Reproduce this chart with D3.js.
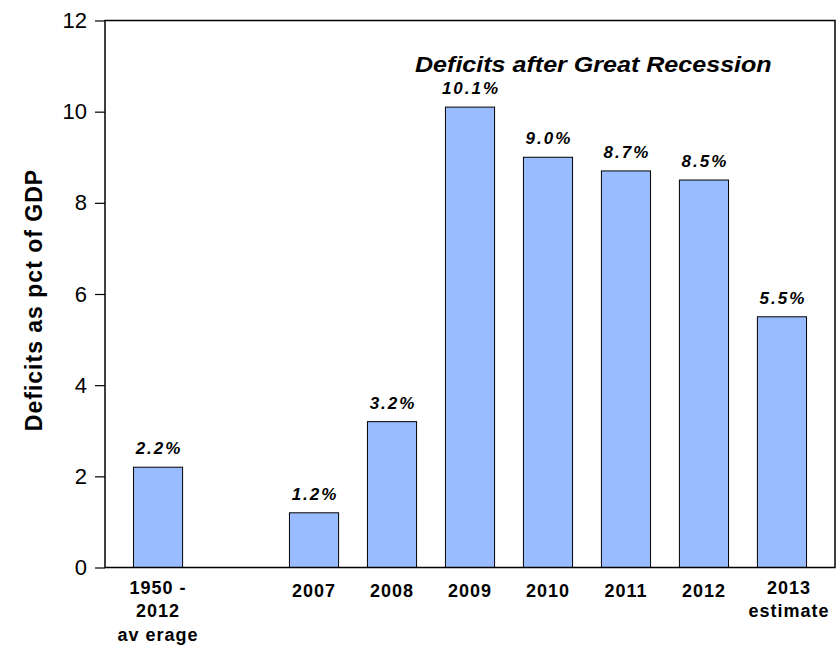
<!DOCTYPE html>
<html>
<head>
<meta charset="utf-8">
<script src="https://cdn.jsdelivr.net/npm/d3@7"></script>
<style>
  html, body { margin: 0; padding: 0; background: #fff; }
  svg { display: block; font-family: Arial, "Liberation Sans", sans-serif; }
</style>
</head>
<body>
<svg id="chart" width="836" height="650"></svg>
<script>
// ---- data ----
const categories = ["avg", "gap", "2007", "2008", "2009", "2010", "2011", "2012", "2013"];
const categoryLabels = [["1950 -", "2012", "av erage"], [], ["2007"], ["2008"], ["2009"], ["2010"], ["2011"], ["2012"], ["2013", "estimate"]];
const barCategories = ["avg", "2007", "2008", "2009", "2010", "2011", "2012", "2013"];
const deficits = [2.2, 1.2, 3.2, 10.1, 9.0, 8.7, 8.5, 5.5];
const valueLabels = ["2.2%", "1.2%", "3.2%", "10.1%", "9.0%", "8.7%", "8.5%", "5.5%"];
const yTicks = [0, 2, 4, 6, 8, 10, 12];
const titleText = "Deficits after Great Recession";
const yAxisTitle = "Deficits as pct of GDP";

// ---- layout ----
const svg = d3.select("#chart");
const mLeft = 105, mRight = 835, mTop = 20.5, mBottom = 567.5;

const x = d3.scaleBand().domain(categories).range([mLeft, mRight])
  .paddingInner(0.37).paddingOuter(0.365);
const y = d3.scaleLinear().domain([0, 12]).range([mBottom, mTop]);

const barData = barCategories.map((c, i) => ({c, v: deficits[i], label: valueLabels[i]}));

// bars
svg.append("g").selectAll("rect")
  .data(barData)
  .join("rect")
  .attr("x", d => x(d.c))
  .attr("y", d => y(d.v))
  .attr("width", x.bandwidth())
  .attr("height", d => y(0) - y(d.v))
  .attr("fill", "#99bbff")
  .attr("stroke", "#000")
  .attr("stroke-width", 1);

// value labels
svg.append("g").selectAll("text")
  .data(barData)
  .join("text")
  .attr("x", d => x(d.c) + x.bandwidth() / 2 + 1)
  .attr("y", d => y(d.v) - 13)
  .attr("text-anchor", "middle")
  .attr("font-size", "17px")
  .attr("font-weight", "bold")
  .attr("font-style", "italic")
  .attr("letter-spacing", "2px")
  .text(d => d.label);

// y axis
const yAxis = d3.axisLeft(y).tickValues(yTicks).tickSize(10).tickPadding(8).tickFormat(d3.format("d"));
const gy = svg.append("g").attr("transform", `translate(${mLeft},0)`).call(yAxis);
gy.select(".domain").remove();
gy.selectAll(".tick line").attr("stroke", "#000").attr("stroke-width", 1.2);
gy.selectAll(".tick text").attr("font-size", "22px").attr("fill", "#000")
  .attr("font-family", "Arial, 'Liberation Sans', sans-serif");

// frame
svg.append("rect")
  .attr("x", mLeft).attr("y", mTop)
  .attr("width", mRight - mLeft).attr("height", mBottom - mTop)
  .attr("fill", "none").attr("stroke", "#000").attr("stroke-width", 1.5);

// x labels
const xl = svg.append("g");
categories.forEach((c, i) => {
  const lines = categoryLabels[i];
  if (!lines.length) return;
  const shift = c === "2013" ? 7 : 0;
  const cx = x(c) + x.bandwidth() / 2 + shift;
  const t = xl.append("text")
    .attr("x", cx)
    .attr("y", lines.length > 1 ? 594 : 596.5)
    .attr("text-anchor", "middle")
    .attr("font-size", "18px")
    .attr("font-weight", "bold")
    .attr("letter-spacing", "1px");
  lines.forEach((ln, j) => {
    t.append("tspan").attr("x", cx).attr("dy", j === 0 ? 0 : 23.3).text(ln);
  });
});

// title
svg.append("text")
  .attr("transform", "translate(415,71.5) scale(1.14,1)")
  .attr("font-size", "22px")
  .attr("font-weight", "bold")
  .attr("font-style", "italic")
  .text(titleText);

// y axis title
svg.append("text")
  .attr("transform", "translate(42,300) rotate(-90)")
  .attr("text-anchor", "middle")
  .attr("font-size", "23px")
  .attr("font-weight", "bold")
  .attr("letter-spacing", "1px")
  .text(yAxisTitle);
</script>
</body>
</html>
